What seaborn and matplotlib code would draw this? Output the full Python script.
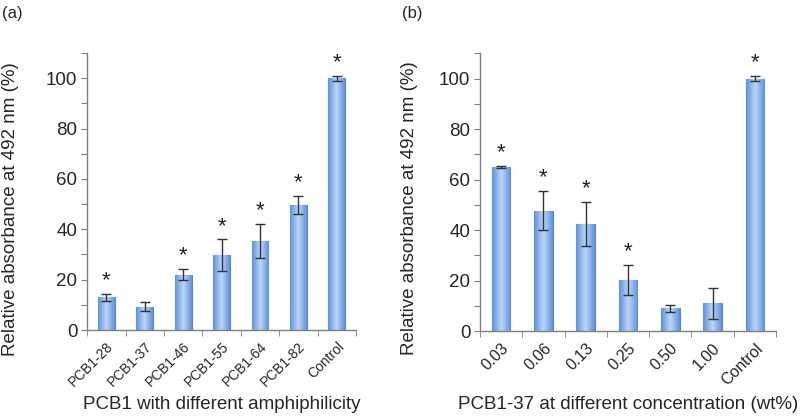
import numpy as np
import pandas as pd
import seaborn as sns
import matplotlib.pyplot as plt
from matplotlib.colors import LinearSegmentedColormap

# (a) 不同两亲性
cats_a = ['PCB1-28', 'PCB1-37', 'PCB1-46', 'PCB1-55', 'PCB1-64', 'PCB1-82', 'Control']
vals_a = [13.0, 9.3, 22.0, 29.8, 35.3, 49.7, 100.0]
errs_a = [1.5, 1.7, 2.3, 6.2, 6.8, 3.6, 1.0]
star_a = [True, False, True, True, True, True, True]

# (b) 不同浓度
cats_b = ['0.03', '0.06', '0.13', '0.25', '0.50', '1.00', 'Control']
vals_b = [65.0, 47.7, 42.3, 20.2, 9.0, 11.0, 100.0]
errs_b = [0.3, 7.8, 8.8, 6.0, 1.3, 6.2, 1.0]
star_b = [True, True, True, True, False, False, True]

sns.set_style('white')
plt.rcParams['font.family'] = ['Liberation Sans', 'DejaVu Sans']

fig = plt.figure(figsize=(8, 4.17), dpi=100)
ax_a = fig.add_axes([0.109, 0.2086, 0.336, 0.664])
ax_b = fig.add_axes([0.600, 0.2062, 0.370, 0.666])

grad = LinearSegmentedColormap.from_list('g', ['#5f92dc', '#bcd6f7', '#5f92dc'])


def draw(ax, cats, vals, errs, stars, xlabel, tick_fs, ylab_x, ylab_y, xlab_y):
    df = pd.DataFrame({'cat': cats, 'val': vals})
    sns.barplot(data=df, x='cat', y='val', ax=ax, width=0.44, color='#7ea8e6',
                edgecolor='#5a86c8', linewidth=0.8, errorbar=None)
    # 渐变填充
    g = np.linspace(0, 1, 64).reshape(1, -1)
    for p in ax.patches:
        x0, y0 = p.get_x(), p.get_y()
        w, h = p.get_width(), p.get_height()
        im = ax.imshow(g, cmap=grad, aspect='auto', extent=[x0, x0 + w, y0, y0 + h], zorder=p.get_zorder())
        im.set_clip_path(p)
    ax.errorbar(range(len(cats)), vals, yerr=errs, fmt='none', ecolor='#333333',
                elinewidth=1, capsize=3.5, capthick=1, zorder=5)
    for i, (v, e, s) in enumerate(zip(vals, errs, stars)):
        if s:
            ax.text(i, v + e + 1.0, '*', ha='center', va='bottom', fontsize=16, color='#222222')
    ax.set_xlim(-0.5, len(cats) - 0.5)
    ax.set_ylim(0, 110)
    ax.set_yticks(range(0, 111, 10))
    ax.set_yticklabels([str(t) if t % 20 == 0 and t <= 100 else '' for t in range(0, 111, 10)], fontsize=13.5)
    ax.set_xticks(range(len(cats)))
    ax.set_xticklabels(cats, rotation=45, ha='right', rotation_mode='anchor', fontsize=tick_fs)
    ax.set_xticks(np.arange(-0.5, len(cats), 1), minor=True)
    ax.tick_params(axis='x', which='major', length=0, pad=7)
    ax.tick_params(axis='x', which='minor', length=4, color='#808080', direction='out', bottom=True)
    ax.tick_params(axis='y', length=4, color='#808080', direction='out', left=True, pad=3)
    for side in ['top', 'right']:
        ax.spines[side].set_visible(False)
    for side in ['left', 'bottom']:
        ax.spines[side].set_color('#808080')
        ax.spines[side].set_linewidth(1)
    ax.set_ylabel('Relative absorbance at 492 nm (%)', fontsize=13.5)
    ax.set_xlabel(xlabel, fontsize=13.5)
    ax.yaxis.set_label_coords(ylab_x, ylab_y)
    ax.xaxis.set_label_coords(0.5, xlab_y)


draw(ax_a, cats_a, vals_a, errs_a, star_a, 'PCB1 with different amphiphilicity', 10, -0.253, 0.437, -0.238)
draw(ax_b, cats_b, vals_b, errs_b, star_b, 'PCB1-37 at different concentration (wt%)', 11.5, -0.209, 0.442, -0.234)

fig.text(0.002, 0.985, '(a)', fontsize=12, va='top', ha='left')
fig.text(0.502, 0.985, '(b)', fontsize=12, va='top', ha='left')

fig.savefig('out.png', dpi=100)
